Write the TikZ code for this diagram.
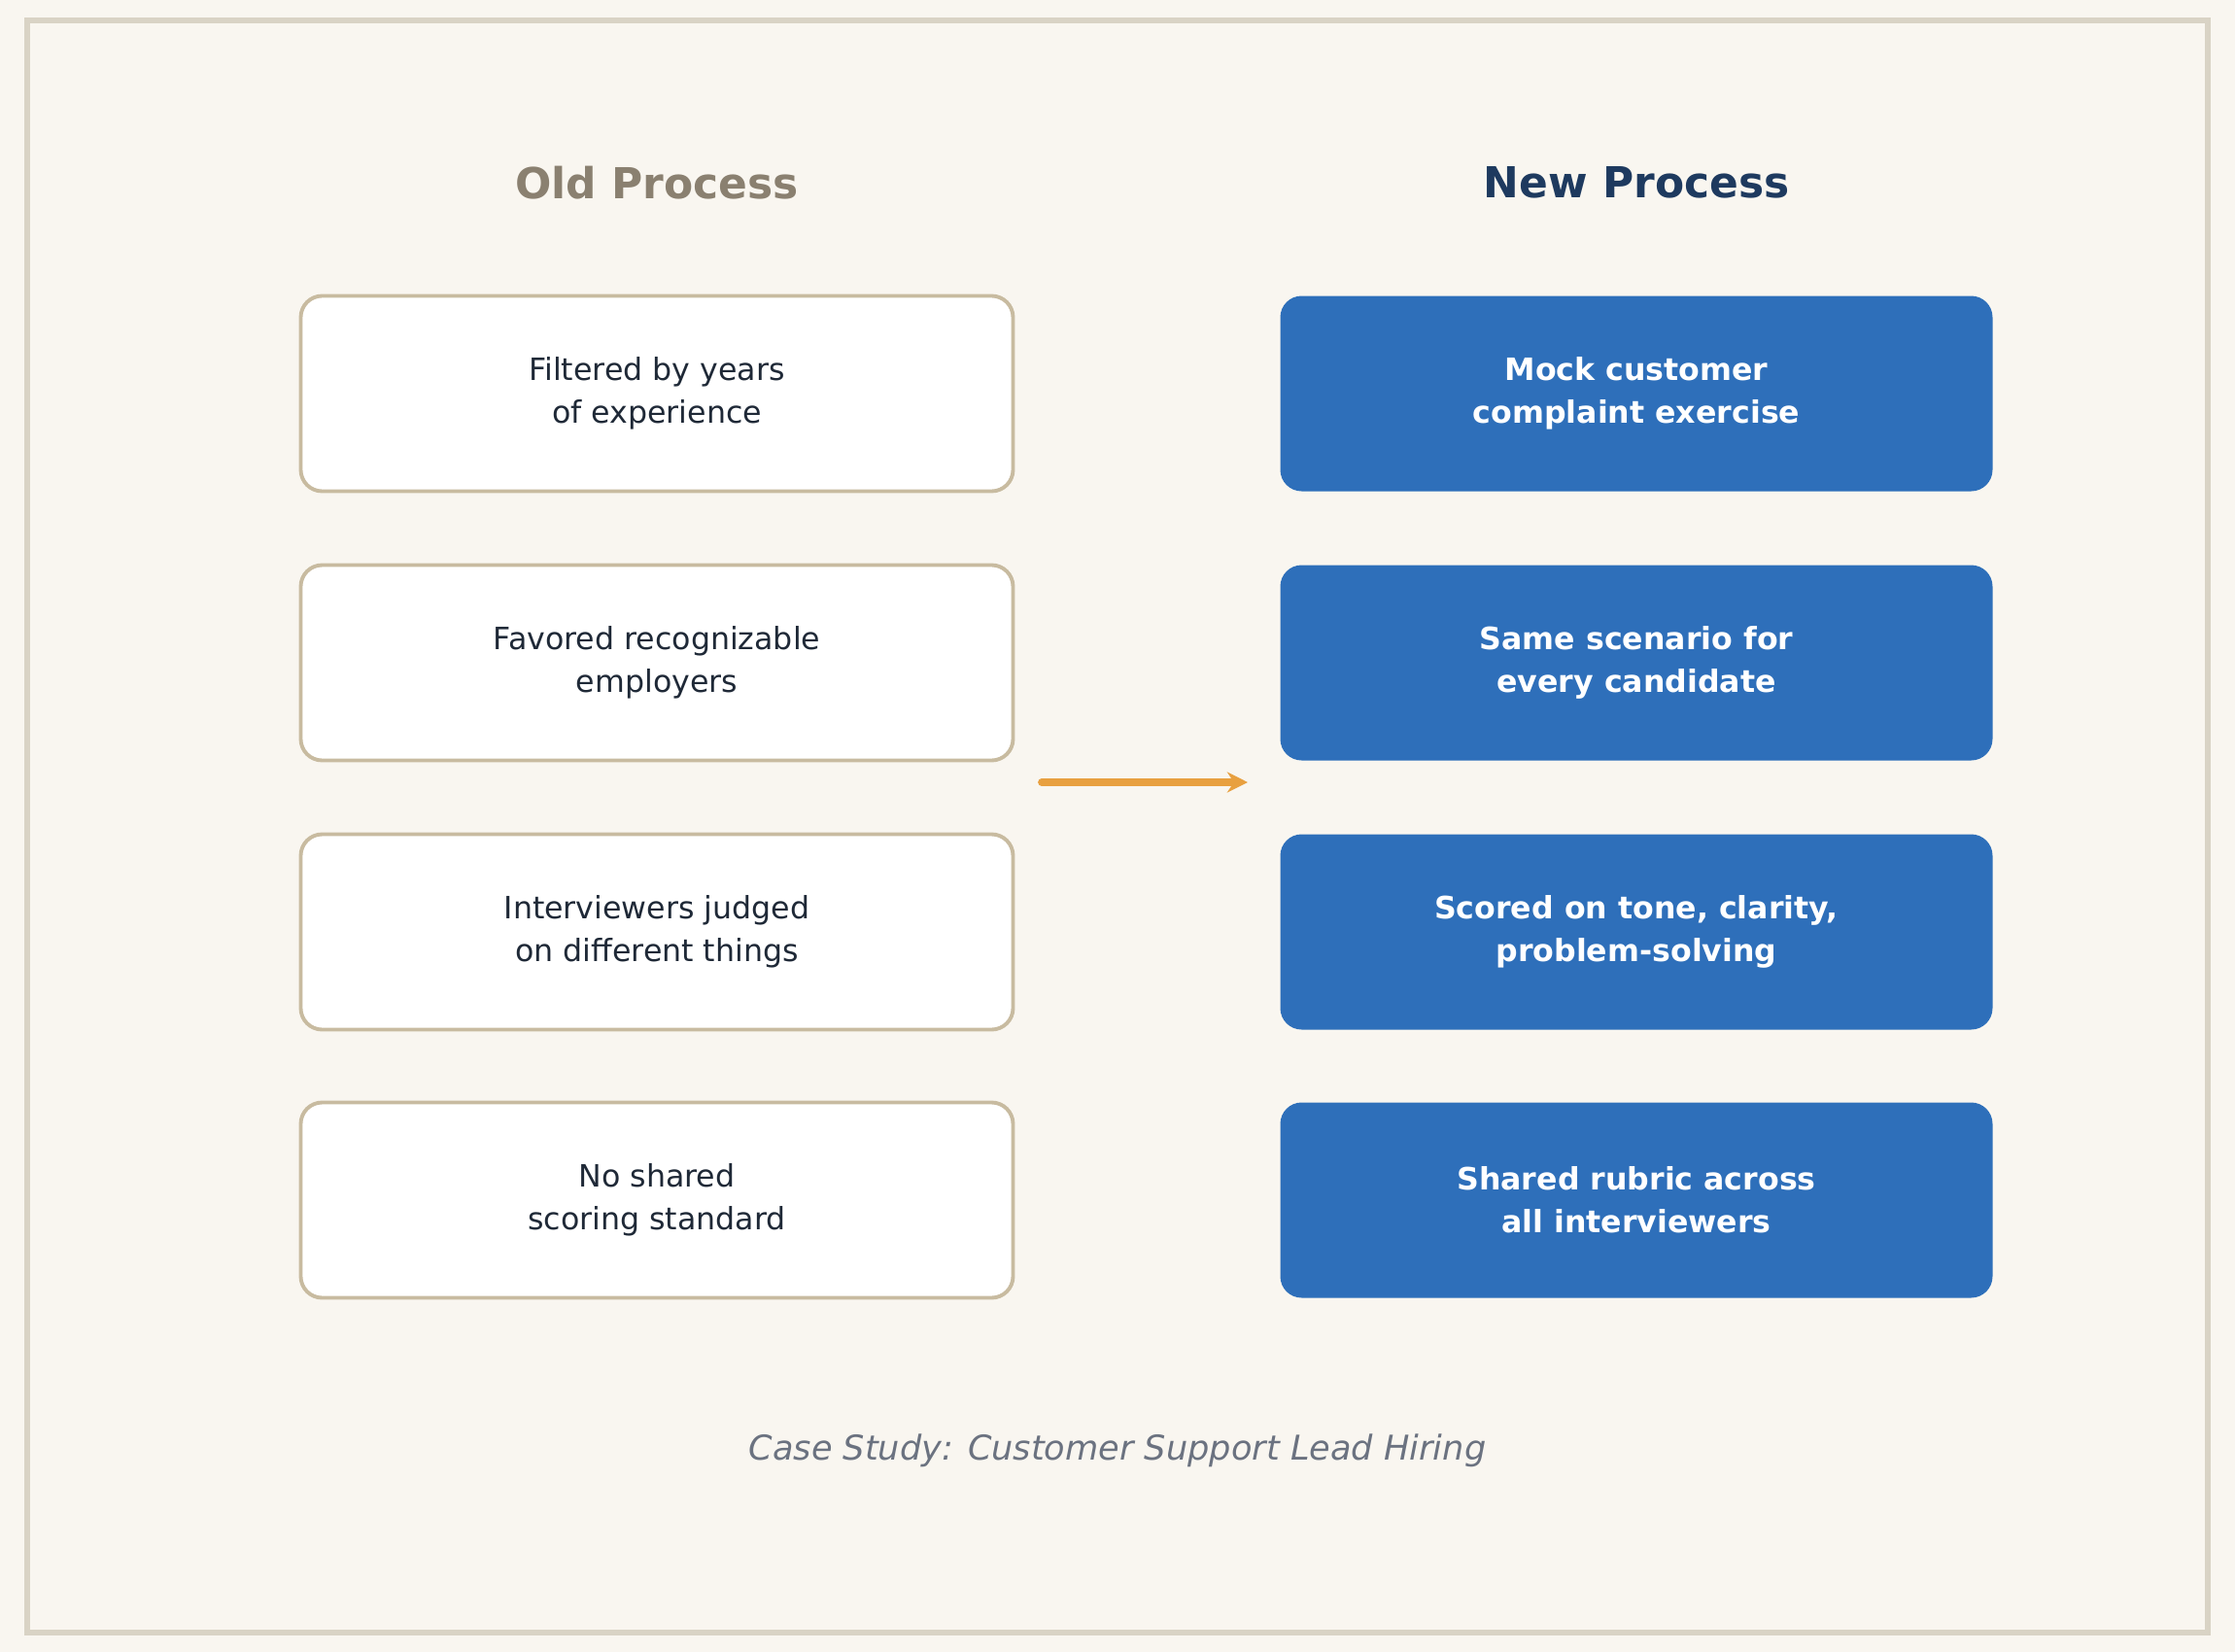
\documentclass[tikz,border=0pt]{standalone}
\usepackage{fontspec}
\setmainfont{DejaVu Sans}
\usetikzlibrary{positioning, arrows.meta}
\definecolor{bgpaper}{HTML}{F9F6F0}
\definecolor{frameline}{HTML}{D9D3C5}
\definecolor{oldline}{HTML}{C8BBA0}
\definecolor{oldtitle}{HTML}{8A8070}
\definecolor{newtitle}{HTML}{1E3A5F}
\definecolor{newfill}{HTML}{2E6FBA}
\definecolor{darktext}{HTML}{1F2937}
\definecolor{arroworange}{HTML}{E8A040}
\definecolor{captiongray}{HTML}{6B7280}
\tikzset{
	oldbox/.style={rectangle, draw=oldline, line width=1.1pt, fill=white, rounded corners=0.22cm,
		minimum width=7.33cm, minimum height=2.01cm, align=center, text=darktext, font=\fontsize{9}{12.5}\selectfont},
	newbox/.style={rectangle, fill=newfill, rounded corners=0.22cm,
		minimum width=7.33cm, minimum height=2.01cm, align=center, text=white, font=\fontsize{9}{12.5}\selectfont\bfseries},
	coltitle/.style={font=\fontsize{12.5}{15}\selectfont\bfseries}
}
\begin{document}
\begin{tikzpicture}
		
		%Background
		\fill[bgpaper] (0,0) rectangle (23,-17);
		\useasboundingbox (0,0) rectangle (23,-17);
		\draw[frameline, line width=1.7pt] (0.28,-0.21) rectangle (22.72,-16.80);
		
		%Titles
		\node (oldTitle) at (6.76,-1.88) [coltitle, text=oldtitle]{Old Process};
		\node (newTitle) at (16.84,-1.88) [coltitle, text=newtitle]{New Process};
		
		%Old nodes
		\node (years) at (6.76,-4.05) [oldbox]{Filtered by years \\ of experience};
		\node (employers) at (6.76,-6.82) [oldbox]{Favored recognizable \\ employers};
		\node (judged) at (6.76,-9.59) [oldbox]{Interviewers judged \\ on different things};
		\node (nostandard) at (6.76,-12.35) [oldbox]{No shared \\ scoring standard};
		
		%New nodes
		\node (mock) at (16.84,-4.05) [newbox]{Mock customer \\ complaint exercise};
		\node (scenario) at (16.84,-6.82) [newbox]{Same scenario for \\ every candidate};
		\node (scored) at (16.84,-9.59) [newbox]{Scored on tone, clarity, \\ problem-solving};
		\node (rubric) at (16.84,-12.35) [newbox]{Shared rubric across \\ all interviewers};
		
		%Link
		\coordinate (arrowStart) at (10.72,-8.05);
		\coordinate (arrowEnd) at (12.84,-8.05);
		\draw[-{Stealth[length=6pt, width=6pt]}, arroworange, line width=2.2pt, line cap=round] (arrowStart) -- (arrowEnd);
		
		%Caption
		\node (caption) at (11.5,-14.93) [text=captiongray, font=\fontsize{10}{12}\selectfont\itshape]{Case Study: Customer Support Lead Hiring};
		
\end{tikzpicture}
\end{document}
